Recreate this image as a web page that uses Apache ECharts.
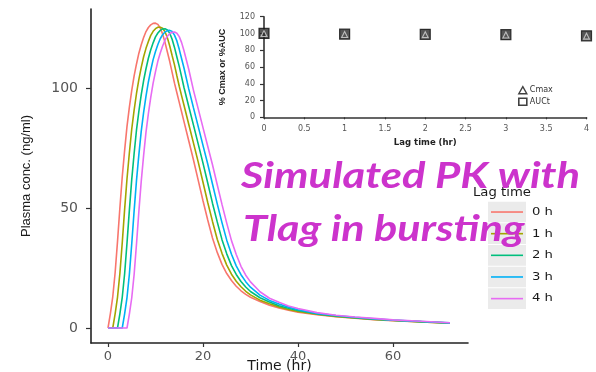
<!DOCTYPE html>
<html>
<head>
<meta charset="utf-8">
<script src="https://cdn.jsdelivr.net/npm/echarts@6/dist/echarts.min.js"></script>
<style>html,body{margin:0;padding:0;background:#fff}#c{width:596px;height:372px}</style>
</head>
<body>
<div id="c"></div>
<script>
// ---- data ----
const timeHr = [0,0.5,1,1.5,2,2.5,3,3.5,4,4.5,5,5.5,6,6.5,7,7.5,8,8.5,9,9.5,10,10.5,11,11.5,12,12.5,13,13.5,14,14.5,15,15.5,16,
  17,18,19,20,21,22,23,24,25,26,27,28,29,30,32,34,36,38,40,44,48,52,56,60,66,72];
const conc0h = [0,6,13,23,36,50,63,74,84,92,99,105,110,114.5,118,121,123.5,125.2,126.3,126.9,127,126.5,125,122.5,119,115,111,106.5,102,98,94,90,86,
  78,70,61.5,53,45,37.5,31.5,26.5,22.7,19.8,17.4,15.5,14,12.8,11,9.5,8.3,7.4,6.6,5.5,4.7,4.1,3.5,3.0,2.5,2.0];
const conc1h = [0,0,0,5.9,12.8,22.7,35.5,49.4,62.2,73,82.9,90.8,97.7,103.6,108.6,113,116.5,119.4,121.9,123.6,124.7,125.3,125.3,124.9,123.4,120.9,117.5,113.5,109.6,105.1,100.7,96.7,92.8,
  84.9,77,69.1,60.7,52.3,44.4,37,31.1,26.2,22.4,19.5,17.2,15.3,13.8,11.6,10.1,8.8,7.7,6.9,5.7,4.85,4.2,3.6,3.1,2.55,2.05];
const conc2h = [0,0,0,0,0,5.9,12.8,22.6,35.4,49.1,61.9,72.7,82.5,90.3,97.2,103.1,108,112.4,115.9,118.8,121.3,122.9,124,124.6,124.7,124.2,122.8,120.3,116.9,112.9,109,104.6,100.2,
  92.3,84.5,76.6,68.7,60.4,52,44.2,36.8,30.9,26,22.3,19.4,17.1,15.2,12.6,10.8,9.3,8.2,7.3,5.9,5.0,4.3,3.7,3.2,2.65,2.1];
const conc3h = [0,0,0,0,0,0,0,5.9,12.7,22.4,35.1,48.8,61.5,72.2,82,89.8,96.6,102.5,107.4,111.8,115.2,118.1,120.5,122.2,123.3,123.9,124,123.5,122,119.6,116.1,112.2,108.3,
  99.6,91.7,83.9,76.1,68.3,60,51.7,43.9,36.6,30.7,25.9,22.2,19.3,17,13.7,11.5,10,8.7,7.6,6.1,5.2,4.45,3.85,3.3,2.7,2.15];
const conc4h = [0,0,0,0,0,0,0,0,0,5.8,12.6,22.3,35,48.6,61.2,71.9,81.6,89.3,96.1,102,106.8,111.2,114.6,117.5,119.9,121.6,122.6,123.2,123.3,122.8,121.4,118.9,115.5,
  107.8,99,91.3,83.5,75.7,68,59.7,51.5,43.7,36.4,30.6,25.7,22,19.2,15.1,12.4,10.7,9.2,8.1,6.4,5.3,4.6,4.0,3.4,2.8,2.2];
const lagLabels = ['0 h','1 h','2 h','3 h','4 h'];
const lagColors = ['#F8766D','#A3A500','#00BF7D','#00B0F6','#E76BF3'];
const mainXTicks = [0,20,40,60];
const mainYTicks = [0,50,100];

// inset
const lagTime = [0,1,2,3,4];
const cmaxPct = [100,98.8,98.6,98.2,96.8];
const aucPct  = [100,99.2,99,98.6,97.2];

const concSeries = [conc0h, conc1h, conc2h, conc3h, conc4h];

const chart = echarts.init(document.getElementById('c'), null, {renderer:'canvas'});

const series = concSeries.map((vals, k) => ({
  name: lagLabels[k], type: 'line', xAxisIndex: 0, yAxisIndex: 0,
  data: timeHr.map((t, i) => [t, vals[i]]),
  showSymbol: false, symbol: 'none', smooth: false,
  lineStyle: {color: lagColors[k], width: 1.6}, itemStyle: {color: lagColors[k]},
  z: 2 + k, animation: false
}));
series.push({
  name: 'AUCt', type: 'scatter', xAxisIndex: 1, yAxisIndex: 1,
  data: lagTime.map((t,i)=>[t, aucPct[i]]), symbol: 'rect', symbolSize: 10,
  itemStyle: {color: '#2a2a2a', borderColor: '#111', borderWidth: 1.2}, z: 10, animation:false
});
series.push({
  name: 'Cmax', type: 'scatter', xAxisIndex: 1, yAxisIndex: 1,
  data: lagTime.map((t,i)=>[t, cmaxPct[i]]), symbol: 'triangle', symbolSize: 6,
  itemStyle: {color: 'rgba(255,255,255,0)', borderColor: '#d8d8d8', borderWidth: 1.1}, z: 11, animation:false
});

const legendItems = [];
const boxTop = 201.7, boxH = 21.65;
lagLabels.forEach((lab, k) => {
  const y0 = boxTop + k * boxH;
  legendItems.push({type:'rect', shape:{x:488, y:y0, width:38, height:boxH-1}, style:{fill:'#ebebeb'}, z: 50});
  legendItems.push({type:'line', shape:{x1:491, y1:y0+boxH/2-0.5, x2:523, y2:y0+boxH/2-0.5}, style:{stroke:lagColors[k], lineWidth:1.6}, z: 51});
  legendItems.push({type:'text', x:532, y:y0+boxH/2-0.5, scaleX:1.2, style:{text:lab, fontFamily:'DejaVu Sans', fontSize:11, fill:'#1a1a1a', verticalAlign:'middle', align:'left'}, z: 51});
});
legendItems.push({type:'text', x:473, y:192.7, scaleX:1.15, style:{text:'Lag time', fontFamily:'DejaVu Sans', fontSize:11.5, fill:'#1a1a1a', verticalAlign:'middle', align:'left'}, z: 51});

const titleStyle = {fontFamily:'Lato', fontWeight:'bold', fontStyle:'italic', fontSize:36, fill:'#CC33CC', align:'left', verticalAlign:'middle'};
legendItems.push({type:'text', x:241, y:176, scaleX:1.21, style:Object.assign({text:'Simulated PK with'}, titleStyle), z: 100});
legendItems.push({type:'text', x:243, y:229.5, scaleX:1.2, style:Object.assign({text:'Tlag in bursting'}, titleStyle), z: 100});

const option = {
  backgroundColor: '#ffffff',
  animation: false,
  grid: [
    {left: 91, top: 9, width: 377, height: 334, containLabel: false, outerBoundsMode: 'none'},
    {left: 264, top: 16.7, width: 322.5, height: 100.6, containLabel: false, outerBoundsMode: 'none'}
  ],
  xAxis: [
    {type:'value', gridIndex:0, min:-3.58, max:75.8,
     name:'Time (hr)', nameLocation:'middle', nameGap:23, nameMoveOverlap:false,
     nameTextStyle:{fontFamily:'DejaVu Sans', fontSize:14, color:'#1a1a1a', verticalAlign:'middle'},
     axisLine:{show:true, onZero:false, lineStyle:{color:'#222', width:1.6}},
     axisTick:{show:true, customValues: mainXTicks, length:4, lineStyle:{color:'#333', width:1.2}},
     axisLabel:{customValues: mainXTicks, margin:7, fontFamily:'DejaVu Sans', fontSize:13, color:'#555'},
     splitLine:{show:false}},
    {type:'value', gridIndex:1, min:0, max:4, interval:0.5,
     name:'Lag time (hr)', nameLocation:'middle', nameGap:21, nameMoveOverlap:false,
     nameTextStyle:{fontFamily:'DejaVu Sans', fontSize:8.5, fontWeight:'bold', color:'#222'},
     axisLine:{show:true, onZero:false, lineStyle:{color:'#333', width:1.6}},
     axisTick:{show:true, length:2, lineStyle:{color:'#333', width:1.2}},
     axisLabel:{margin:8, fontFamily:'DejaVu Sans', fontSize:8, color:'#555', showMinLabel:true, showMaxLabel:true},
     splitLine:{show:false}}
  ],
  yAxis: [
    {type:'value', gridIndex:0, min:-6.25, max:132.9,
     name:'Plasma conc. (ng/ml)', nameLocation:'middle', nameGap:58, nameRotate:90, nameMoveOverlap:false,
     nameTextStyle:{fontFamily:'Liberation Sans Narrow, Liberation Sans', fontSize:13, color:'#1a1a1a'},
     axisLine:{show:true, onZero:false, lineStyle:{color:'#222', width:1.6}},
     axisTick:{show:true, customValues: mainYTicks, length:5, lineStyle:{color:'#333', width:1.2}},
     axisLabel:{customValues: mainYTicks, margin:13, fontFamily:'DejaVu Sans', fontSize:14, color:'#555'},
     splitLine:{show:false}},
    {type:'value', gridIndex:1, min:0, max:120, interval:20,
     name:'% Cmax or %AUC', nameLocation:'middle', nameGap:37, nameRotate:90, nameMoveOverlap:false,
     nameTextStyle:{fontFamily:'Liberation Sans Narrow, Liberation Sans', fontSize:9, fontWeight:'bold', color:'#222'},
     axisLine:{show:true, onZero:false, lineStyle:{color:'#333', width:1.6}},
     axisTick:{show:true, length:4, lineStyle:{color:'#333', width:1.2}},
     axisLabel:{margin:9, fontFamily:'DejaVu Sans', fontSize:8, color:'#555'},
     splitLine:{show:false}}
  ],
  legend: {
    data: [
      {name:'Cmax', itemStyle:{color:'rgba(255,255,255,0)', borderColor:'#111', borderWidth:1.4}},
      {name:'AUCt', itemStyle:{color:'#ffffff', borderColor:'#111', borderWidth:1.6}}
    ],
    left: 518, top: 86, orient: 'vertical', padding: 0,
    itemWidth: 8, itemHeight: 7, itemGap: 3,
    textStyle: {fontFamily:'DejaVu Sans', fontSize:8, color:'#333', padding:[0,0,0,-2]}
  },
  series: series,
  graphic: legendItems
};
chart.setOption(option);
</script>
</body>
</html>
